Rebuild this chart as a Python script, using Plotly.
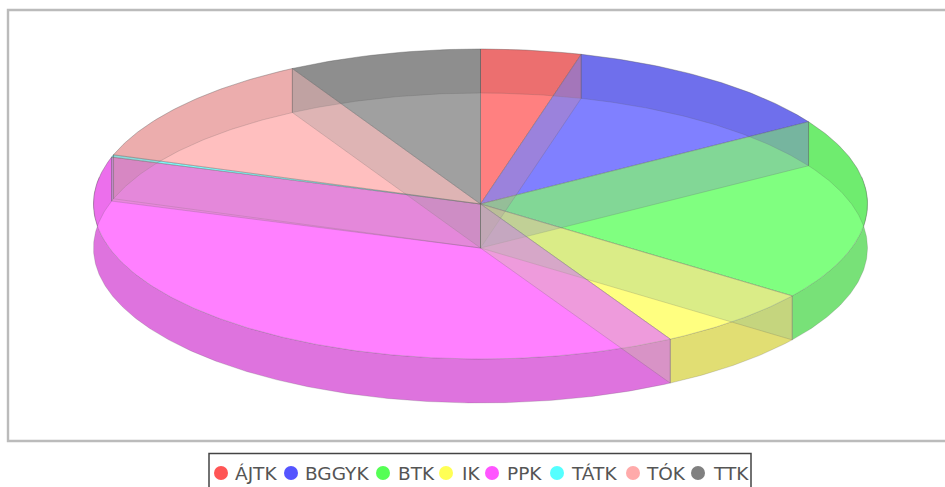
import numpy as np
import plotly.graph_objects as go

CATEGORIES = ["ÁJTK", "BGGYK", "BTK", "IK", "PPK", "TÁTK", "TÓK", "TTK"]
SHARES = [4.19, 11.91, 19.0, 6.75, 38.05, 0.25, 11.78, 8.08]
LEGEND_COLORS = ["#ff5555", "#5555ff", "#55ff55", "#ffff55", "#ff55ff", "#55ffff", "#ffaaaa", "#808080"]
FACE_COLORS = ["#ff8080", "#8080ff", "#80ff80", "#ffff80", "#ff80ff", "#80ffff", "#ffbfbf", "#a0a0a0"]
WALL_COLORS = ["#de7373", "#7373de", "#78e178", "#e1de73", "#de73de", "#73dede", "#e0a5a5", "#8c8c8c"]
BACK_COLORS = ["rgba(178,59,59,.25)", "rgba(59,59,178,.25)", "rgba(59,178,59,.25)", "rgba(178,178,59,.25)",
               "rgba(178,59,178,.25)", "rgba(59,178,178,.25)", "rgba(178,119,119,.25)", "rgba(89,89,89,.25)"]
# colour of the radial wall at the end of each slice
BAND_COLORS = ["rgba(218,135,138,.3)", "rgba(135,122,201,.3)", "rgba(132,192,151,.3)", "rgba(206,205,155,.35)",
               "rgba(178,151,138,.3)", "rgba(120,190,190,.04)", "rgba(145,154,154,.3)", "rgba(160,160,160,.2)"]
LEGEND_MARKER_X = [221, 291, 383, 446, 492, 557, 633, 698]
LEGEND_TEXT_X = [235, 305, 398, 462, 507, 571, 646, 713]

W, H = 945, 487
CX, CY, RX, RY, DEPTH = 480.5, 204, 387, 155, 44
D = DEPTH / RY
EDGE = dict(color="rgba(90,90,90,.24)", width=0.9)


def top(t):
    t = np.radians(t)
    return np.sin(t), np.cos(t)


def bottom(t):
    t = np.radians(t)
    return np.sin(t), np.cos(t) - D


def span(a, b, lo=None, hi=None):
    a2, b2 = a, b
    if lo is not None:
        a2 = max(a2, lo)
    if hi is not None:
        b2 = min(b2, hi)
    if b2 <= a2:
        return None
    return np.linspace(a2, b2, max(3, int((b2 - a2) * 2)))


def poly(x, y, fill, name, line=EDGE):
    return go.Scatter(x=list(x), y=list(y), mode="lines", fill="toself", fillcolor=fill, line=line,
                      name=name, hoverinfo="skip", showlegend=False)


def ring(ta, tb, fill, name):
    xa, ya = top(ta)
    xb, yb = bottom(tb[::-1])
    return poly(np.r_[xa, xb, xa[0]], np.r_[ya, yb, ya[0]], fill, name)


fracs = np.array(SHARES) / sum(SHARES)
ends = np.cumsum(fracs) * 360
starts = np.r_[0, ends[:-1]]

fig = go.Figure()

# outer wall below the top face
for i, c in enumerate(CATEGORIES):
    ta = span(starts[i], ends[i], 80, 280)
    if ta is not None:
        fig.add_trace(ring(ta, ta, WALL_COLORS[i], c))

# top faces
for i, c in enumerate(CATEGORIES):
    ts = span(starts[i], ends[i])
    x, y = top(ts)
    fig.add_trace(poly(np.r_[0, x, 0], np.r_[0, y, 0], FACE_COLORS[i], c))

# back wall seen through the faces
for i, c in enumerate(CATEGORIES):
    for lo_t, hi_t, lo_b, hi_b in ((0, 98, 0, 82), (262, 360, 278, 360)):
        ta = span(starts[i], ends[i], lo_t, hi_t)
        tb = span(starts[i], ends[i], lo_b, hi_b)
        if ta is not None and tb is not None:
            fig.add_trace(ring(ta, tb, BACK_COLORS[i], c))

# radial walls, back to front
order = [7, 0, 6, 5, 4, 1, 2, 3]
for i in order:
    a = np.array([ends[i]])
    xa, ya = top(a)
    xb, yb = bottom(a)
    fig.add_trace(poly([0, xa[0], xb[0], 0, 0], [0, ya[0], yb[0], -D, 0], BAND_COLORS[i], CATEGORIES[i]))

# legend
to_x = lambda px: (px - CX) / RX
to_y = lambda py: (CY - py) / RY
for i, c in enumerate(CATEGORIES):
    fig.add_trace(go.Scatter(x=[to_x(LEGEND_MARKER_X[i])], y=[to_y(473)], mode="markers", name=c,
                             marker=dict(size=14, color=LEGEND_COLORS[i], line=dict(width=0)),
                             showlegend=False, hoverinfo="skip"))
    fig.add_annotation(xref="paper", yref="paper", x=LEGEND_TEXT_X[i] / W, y=1 - 473 / H, text=c, showarrow=False,
                       xanchor="left", yanchor="middle", xshift=-2, font=dict(family="DejaVu Sans", size=18.5, color="#555555"))

fig.update_layout(
    width=W, height=H, autosize=False, margin=dict(l=0, r=0, t=0, b=0),
    paper_bgcolor="white", plot_bgcolor="white", showlegend=False,
    xaxis=dict(range=[to_x(0), to_x(W)], visible=False, fixedrange=True),
    yaxis=dict(range=[to_y(H), to_y(0)], visible=False, fixedrange=True),
    shapes=[
        dict(type="rect", xref="paper", yref="paper", x0=8 / W, x1=1.01, y0=1 - 441 / H, y1=1 - 10 / H,
             line=dict(color="#bbbbbb", width=2.4), layer="below"),
        dict(type="rect", xref="paper", yref="paper", x0=209 / W, x1=751 / W, y0=-0.01, y1=1 - 453.5 / H,
             line=dict(color="#444444", width=1.5), layer="below"),
    ],
)

fig.write_html("out.html", config={"displayModeBar": False}, post_script="document.body.style.margin='0';document.body.style.overflow='hidden';")
